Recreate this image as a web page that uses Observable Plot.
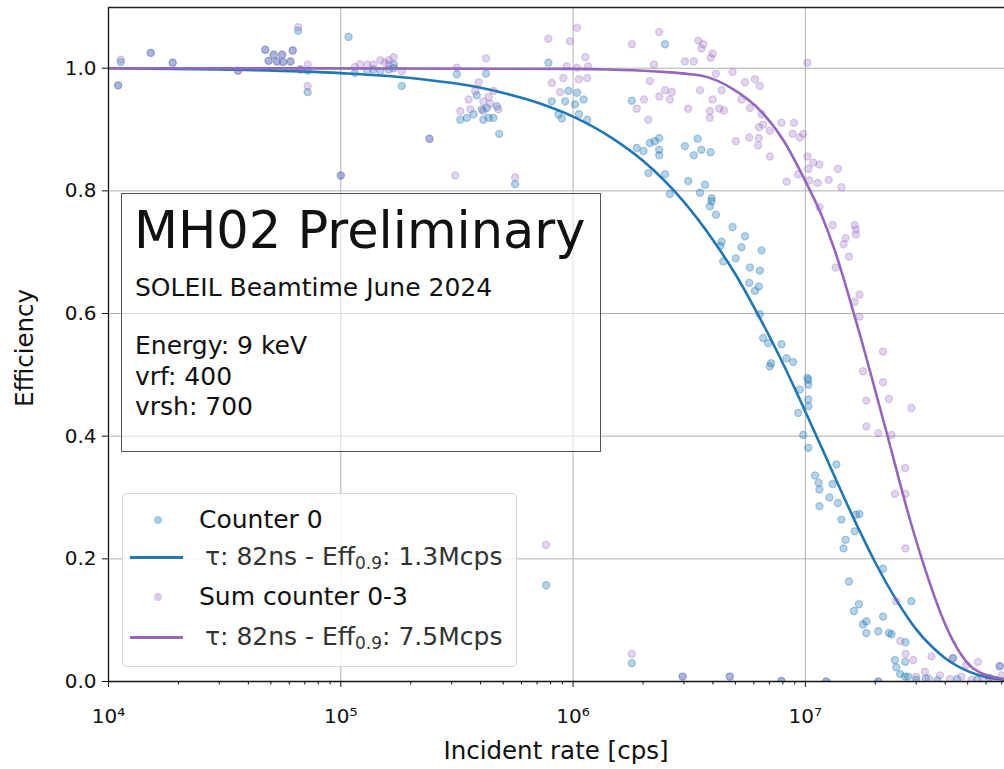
<!DOCTYPE html>
<html><head><meta charset="utf-8">
<script src="https://cdn.jsdelivr.net/npm/d3@7"></script>
<script src="https://cdn.jsdelivr.net/npm/@observablehq/plot@0.6"></script>
<style>
body{margin:0;background:#fff;}
#wrap{position:relative;width:1004px;height:769px;overflow:hidden;background:#fff;}
#wrap svg{position:absolute;left:0;top:0;}
.ov{position:absolute;white-space:nowrap;font-family:"DejaVu Sans",sans-serif;color:#111;}
</style></head><body><div id="wrap"></div>
<script>
// ---- data ----
const counter0Rate = [1.13e4,1.10e4,1.52e4,1.89e4,3.61e4,4.73e4,4.89e4,5.14e4,5.59e4,5.31e4,5.64e4,6.07e4,6.21e4,6.55e4,6.7e4,7.2e4,7.2e4,1.0e5,1.08e5,1.15e5,1.30e5,1.38e5,1.48e5,1.61e5,1.69e5,1.69e5,1.83e5,2.41e5,3.16e5,4.22e5,3.85e5,3.27e5,3.49e5,3.73e5,4.11e5,4.33e5,4.54e5,4.25e5,4.70e5,4.05e5,4.81e5,5.63e5,7.83e5,8.1e5,8.65e5,8.94e5,9.24e5,9.55e5,1.02e6,1.04e6,1.06e6,1.11e6,1.15e6,7.65e5,1.79e6,1.79e6,2.49e6,1.88e6,2.01e6,2.14e6,2.25e6,2.35e6,2.35e6,2.35e6,2.11e6,2.49e6,2.61e6,3.03e6,3.31e6,3.44e6,3.57e6,3.91e6,3.13e6,3.52e6,3.70e6,3.95e6,3.95e6,3.88e6,4.12e6,4.86e6,5.50e6,4.36e6,4.30e6,5.31e6,6.48e6,4.43e6,5.02e6,5.77e6,6.37e6,5.73e6,6.07e6,6.31e6,6.37e6,6.58e6,6.91e6,7.89e6,8.30e6,8.86e6,7.12e6,7.03e6,1.02e7,1.03e7,1.03e7,9.46e6,1.03e7,1.03e7,9.31e6,9.79e6,1.03e7,1.36e7,1.10e7,1.14e7,1.15e7,1.31e7,1.27e7,1.38e7,1.15e7,1.65e7,1.71e7,1.43e7,1.63e7,1.49e7,1.46e7,2.16e7,1.54e7,2.86e7,1.70e7,1.62e7,2.16e7,1.83e7,1.77e7,1.83e7,2.06e7,2.29e7,2.35e7,2.70e7,2.43e7,2.46e7,2.69e7,2.56e7,2.69e7,2.77e7,2.96e6,4.73e6,7.89e6,1.23e7,2.06e7,6.87e7,4.32e7,3.0e7,3.3e7,3.7e7,4.5e7,5.5e7,6.2e7];
const counter0Eff = [1.010,0.972,1.025,1.009,0.996,1.030,1.012,1.022,1.022,1.011,1.010,1.011,1.029,1.061,0.998,0.996,0.961,0.825,1.051,0.992,0.995,0.998,0.995,0.998,1.000,1.006,0.971,0.885,0.990,0.991,0.956,0.916,0.919,0.925,0.916,0.919,0.919,0.935,0.938,0.933,0.893,0.811,1.009,0.946,0.925,0.918,0.946,0.963,0.941,0.960,0.925,0.949,0.916,0.157,0.947,0.030,1.039,0.870,0.865,0.878,0.881,0.886,0.867,0.858,0.829,0.827,0.795,0.873,0.858,0.885,0.867,0.863,0.816,0.797,0.810,0.788,0.783,0.775,0.761,0.741,0.726,0.717,0.710,0.708,0.703,0.685,0.690,0.675,0.670,0.650,0.637,0.644,0.599,0.560,0.552,0.550,0.527,0.521,0.519,0.514,0.495,0.492,0.484,0.476,0.460,0.449,0.438,0.402,0.381,0.354,0.336,0.324,0.313,0.322,0.300,0.291,0.286,0.272,0.273,0.264,0.245,0.231,0.217,0.184,0.163,0.131,0.126,0.115,0.106,0.098,0.093,0.079,0.082,0.079,0.077,0.064,0.035,0.023,0.032,0.012,0.008,0.008,0.008,0.008,0.001,0.000,0.000,0.025,0.038,0.003,0.005,0.002,0.004,0.003,0.006];

const sumRate = [1.13e4,1.10e4,1.52e4,1.89e4,3.61e4,4.73e4,4.89e4,5.14e4,5.59e4,5.31e4,5.64e4,6.07e4,6.21e4,6.55e4,6.7e4,7.2e4,7.2e4,1.0e5,1.15e5,1.21e5,1.30e5,1.38e5,1.48e5,1.55e5,1.61e5,1.69e5,1.61e5,1.83e5,2.41e5,3.11e5,3.16e5,4.22e5,3.92e5,3.79e5,4.54e5,3.55e5,4.11e5,4.33e5,3.27e5,3.61e5,4.11e5,4.77e5,4.40e5,5.63e5,7.83e5,9.7e5,1.04e6,8.1e5,8.79e5,9.08e5,9.39e5,1.04e6,1.13e6,1.16e6,1.06e6,1.15e6,1.79e6,2.35e6,3.46e6,3.63e6,3.57e6,3.99e6,3.91e6,3.03e6,3.31e6,2.23e6,4.12e6,4.86e6,5.50e6,6.07e6,6.37e6,2.14e6,3.52e6,4.36e6,2.49e6,2.66e6,2.35e6,2.02e6,2.61e6,3.99e6,5.31e6,1.88e6,3.13e6,4.26e6,4.46e6,3.88e6,3.88e6,2.11e6,5.77e6,6.48e6,6.31e6,6.58e6,7.03e6,7.89e6,8.93e6,8.81e6,9.46e6,9.79e6,5.02e6,5.73e6,6.27e6,6.30e6,7.03e6,9.31e6,8.30e6,1.02e7,1.02e7,1.08e7,1.15e7,1.03e7,1.38e7,1.04e7,1.13e7,1.26e7,1.43e7,1.15e7,1.31e7,1.63e7,1.65e7,1.65e7,1.49e7,1.46e7,1.54e7,1.35e7,1.71e7,1.63e7,1.71e7,2.16e7,1.77e7,2.16e7,1.83e7,2.29e7,2.86e7,1.83e7,2.06e7,2.35e7,2.69e7,2.43e7,2.70e7,2.70e7,2.46e7,2.56e7,2.70e7,2.91e7,3.49e7,3.27e7,4.32e7,4.93e7,5.53e7,6.87e7,7.65e5,1.79e6,2.96e6,4.73e6,7.89e6,1.23e7,2.06e7,3.0e7,3.4e7,3.8e7,4.2e7,4.7e7,5.2e7,5.8e7,6.4e7,7.0e7];
const sumEff = [1.014,0.972,1.025,1.009,0.996,1.030,1.012,1.022,1.022,1.011,1.010,1.011,1.029,1.067,0.998,1.006,0.971,0.825,1.002,1.006,1.006,1.006,1.013,1.009,1.013,1.018,1.006,0.995,0.885,0.825,1.001,1.016,0.977,0.963,0.963,0.949,0.946,0.953,0.930,0.933,0.930,0.933,0.942,0.822,1.048,1.044,1.066,0.976,0.961,0.984,1.003,1.001,1.018,1.003,0.982,0.984,1.039,1.059,1.045,1.039,1.032,1.024,1.017,1.011,1.011,1.006,0.991,0.994,0.977,0.982,0.971,0.979,0.964,0.964,0.964,0.961,0.954,0.949,0.949,0.949,0.949,0.934,0.934,0.934,0.931,0.930,0.919,0.916,0.935,0.925,0.904,0.908,0.898,0.911,0.911,0.893,0.887,0.893,0.881,0.887,0.874,0.886,0.856,0.827,0.815,1.009,0.856,0.846,0.843,0.836,0.836,0.817,0.813,0.818,0.806,0.773,0.744,0.744,0.737,0.729,0.723,0.713,0.693,0.675,0.631,0.619,0.595,0.538,0.506,0.488,0.458,0.461,0.446,0.416,0.405,0.402,0.348,0.306,0.306,0.217,0.131,0.066,0.045,0.035,0.041,0.016,0.038,0.027,0.032,0.025,0.223,0.045,0.008,0.008,0.001,0.000,0.000,0.008,0.005,0.010,0.004,0.008,0.003,0.006,0.002,0.010];

const fit0Rate = [1e4,3e4,1e5,2e5,4e5,7e5,1e6,1.5e6,2e6,3e6,4e6,5e6,6e6,7e6,8e6,9e6,1e7,1.2e7,1.4e7,1.7e7,2e7,2.5e7,3e7,3.5e7,4e7,5e7,6e7,7.2e7];
const fit0Eff = [1.0,0.998,0.992,0.984,0.968,0.944,0.921,0.884,0.849,0.782,0.720,0.664,0.611,0.563,0.519,0.478,0.440,0.374,0.317,0.248,0.194,0.129,0.085,0.057,0.038,0.017,0.007,0.003];
const fitSumRate = [1e4,1e6,1.4e6,2.2e6,3.54e6,4.92e6,6.43e6,8.09e6,1e7,1.16e7,1.33e7,1.66e7,2.23e7,2.86e7,3.16e7,4.19e7,5.27e7,6.87e7,7.2e7];
const fitSumEff = [1.0,0.999,0.998,0.995,0.988,0.965,0.930,0.881,0.816,0.765,0.706,0.585,0.408,0.256,0.202,0.0765,0.0217,0.0054,0.004];

const yTicks = [0,0.2,0.4,0.6,0.8,1.0];
const xMajor = [1e4,1e5,1e6,1e7];
const xMinor = [2e4,3e4,4e4,5e4,6e4,7e4,8e4,9e4,2e5,3e5,4e5,5e5,6e5,7e5,8e5,9e5,2e6,3e6,4e6,5e6,6e6,7e6,8e6,9e6,2e7,3e7,4e7,5e7,6e7,7e7];

const seriesNames = ["Counter 0","Sum counter 0-3"];
const fitTau = ["82ns","82ns"];
const fitEff09 = ["1.3Mcps","7.5Mcps"];

// ---- build ----
const blue = "#1f77b4", purple = "#9467bd";
const c0 = counter0Rate.map((r,i)=>({rate:r, eff:counter0Eff[i]}));
const cs = sumRate.map((r,i)=>({rate:r, eff:sumEff[i]}));
const f0 = fit0Rate.map((r,i)=>({rate:r, eff:fit0Eff[i]}));
const fs = fitSumRate.map((r,i)=>({rate:r, eff:fitSumEff[i]}));
const supMap = {"0":"⁰","1":"¹","2":"²","3":"³","4":"⁴","5":"⁵","6":"⁶","7":"⁷","8":"⁸","9":"⁹"};
const sup = d => "10" + String(Math.round(Math.log10(d))).split("").map(c=>supMap[c]).join("");
const X0 = 1e4, X1 = 7.2e7, Y1 = 1.099;

const chart = Plot.plot({
  width:1004, height:769, marginLeft:108, marginRight:0, marginTop:7, marginBottom:88,
  x:{type:"log", domain:[X0,X1]},
  y:{domain:[0,Y1]},
  style:{fontFamily:"DejaVu Sans", background:"transparent", color:"#111"},
  marks:[
    Plot.gridY(yTicks.slice(1), {stroke:"#b0b0b0", strokeOpacity:1, strokeWidth:1}),
    Plot.gridX(xMajor.slice(1), {stroke:"#b0b0b0", strokeOpacity:1, strokeWidth:1}),
    Plot.dot(c0,{x:"rate",y:"eff",r:3.6,fill:blue,fillOpacity:0.33,stroke:blue,strokeOpacity:0.35,strokeWidth:1.2,clip:true}),
    Plot.line(f0,{x:"rate",y:"eff",stroke:blue,strokeWidth:2.6,curve:"monotone-x",clip:true}),
    Plot.dot(cs,{x:"rate",y:"eff",r:3.6,fill:purple,fillOpacity:0.28,stroke:purple,strokeOpacity:0.3,strokeWidth:1.2,clip:true}),
    Plot.line(fs,{x:"rate",y:"eff",stroke:purple,strokeWidth:2.6,curve:"monotone-x",clip:true}),
    Plot.ruleX([X0],{stroke:"#111",strokeWidth:1.3}),
    Plot.ruleY([0],{stroke:"#111",strokeWidth:1.3}),
    Plot.ruleY([Y1],{stroke:"#222",strokeWidth:1.6}),
    Plot.axisY(yTicks,{tickSize:6,tickPadding:6,fontSize:20,tickFormat:d3.format(".1f"),label:null}),
    Plot.axisX(xMajor,{tickSize:6,tickPadding:21,fontSize:20,tickFormat:sup,label:null}),
    Plot.axisX(xMinor,{tickSize:3.5,tickFormat:()=>"",label:null})
  ]
});
const wrap = document.getElementById("wrap");
wrap.appendChild(chart);

function ov(html, css){ const d=document.createElement("div"); d.className="ov"; d.innerHTML=html; d.style.cssText+=css; wrap.appendChild(d); return d; }

// axis labels
ov("Incident rate [cps]","left:0;width:1004px;text-align:center;padding-left:108px;box-sizing:border-box;top:736px;font-size:24.5px;line-height:30px;");
ov("Efficiency","left:25px;top:348px;transform:translate(-50%,-50%) rotate(-90deg);font-size:24.5px;line-height:30px;");

// annotation box
ov("","left:121px;top:193px;width:480px;height:259px;border:1.3px solid #555;background:rgba(255,255,255,0.55);box-sizing:border-box;");
ov("MH02 Preliminary","left:134px;top:202px;font-size:51px;line-height:58px;");
ov("SOLEIL Beamtime June 2024","left:135px;top:273px;font-size:25px;line-height:30px;");
ov("Energy: 9 keV","left:135px;top:331px;font-size:25px;line-height:30px;");
ov("vrf: 400","left:135px;top:362px;font-size:25px;line-height:30px;");
ov("vrsh: 700","left:135px;top:392px;font-size:25px;line-height:30px;");

// legend
ov("","left:122px;top:493px;width:395px;height:174px;border:1px solid #d6d6d6;border-radius:5px;background:rgba(255,255,255,0.8);box-sizing:border-box;");
const subCss = "font-size:17px;vertical-align:-4px";
const rows = [
  {y:520, kind:"dot", color:"rgba(31,119,180,0.4)", text:seriesNames[0]},
  {y:557, kind:"line", color:blue, text:"τ: "+fitTau[0]+" - Eff<sub style='"+subCss+"'>0.9</sub>: "+fitEff09[0]},
  {y:597, kind:"dot", color:"rgba(148,103,189,0.35)", text:seriesNames[1]},
  {y:637, kind:"line", color:purple, text:"τ: "+fitTau[1]+" - Eff<sub style='"+subCss+"'>0.9</sub>: "+fitEff09[1]}
];
rows.forEach(r=>{
  if(r.kind==="dot") ov("",`left:154px;top:${r.y-4}px;width:8px;height:8px;border-radius:50%;background:${r.color};`);
  else ov("",`left:130px;top:${r.y-1.5}px;width:53px;height:3px;background:${r.color};`);
  const isFit = r.kind==="line";
  ov(r.text,`left:${isFit?205:199}px;top:${r.y-16}px;font-size:25px;line-height:32px;color:${isFit?"#333":"#111"};`);
});
</script>
</body></html>
